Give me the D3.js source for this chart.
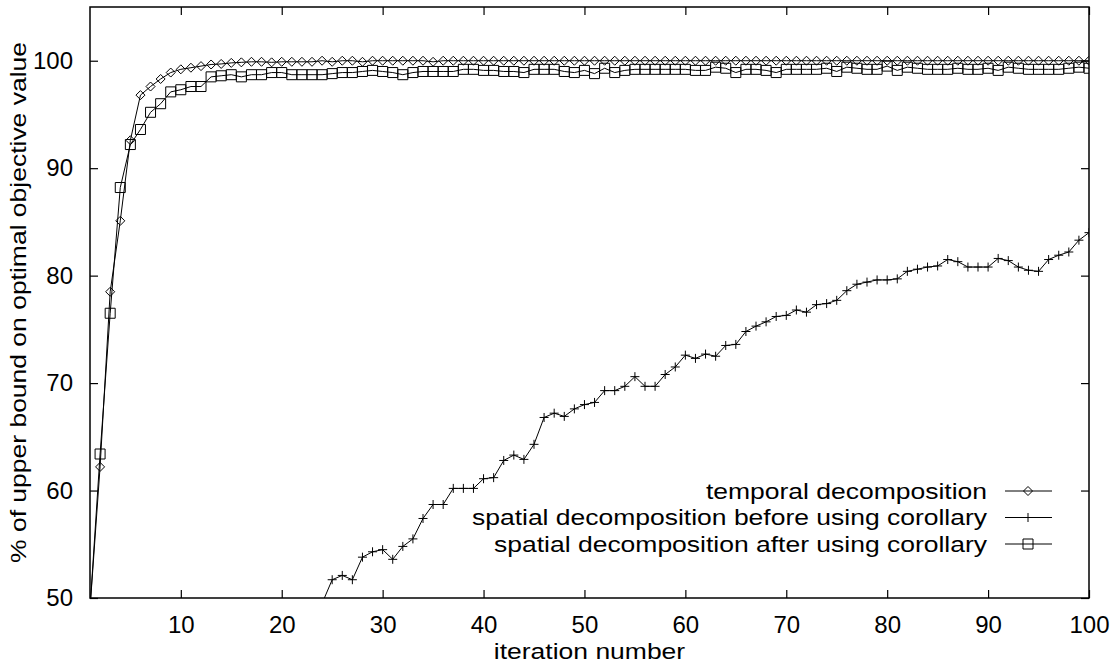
<!DOCTYPE html>
<html lang="en">
<head>
<meta charset="UTF-8">
<title>decomposition</title>
<style type="text/css">
  body { margin: 0; background: #fff; }
  svg { display: block; font-family: "Liberation Sans", Arial, sans-serif; }
  .axis path { display: none; }
  .axis line { stroke: #000; stroke-width: 1.2px; }
  .axis text { font-size: 24px; fill: #000; }
  .series path.line { fill: none; stroke: #000; stroke-width: 1px; }
  .mark { fill: none; stroke: #000; stroke-width: 1px; }
  .label { font-size: 22.5px; fill: #000; }
</style>
</head>
<body>
<svg id="chart" width="1117" height="664"></svg>
<script src="https://cdn.jsdelivr.net/npm/d3@7"></script>
<script>
"use strict";

var iterations = d3.range(1, 101);
var xTicks = [10, 20, 30, 40, 50, 60, 70, 80, 90, 100];
var yTicks = [50, 60, 70, 80, 90, 100];

var temporal = [
  49, 62.2, 78.5, 85.1, 92.6, 96.8, 97.6, 98.3, 98.9, 99.2,
  99.35, 99.5, 99.65, 99.7, 99.8, 99.85, 99.9, 99.9, 99.85, 99.9,
  99.9, 99.9, 99.9, 100, 99.9, 100, 100, 99.9, 100, 100,
  100, 100, 100, 100, 99.9, 100, 100, 100, 100, 100,
  100, 100, 100, 100, 100, 100, 100, 100, 100, 100,
  100, 100, 100, 100, 100, 100, 100, 100, 100, 100,
  100, 100, 100, 100, 100, 100, 100, 100, 100, 100,
  100, 100, 100, 100, 100, 100, 100, 100, 100, 100,
  100, 100, 100, 100, 100, 100, 100, 100, 100, 100,
  100, 100, 100, 100, 100, 100, 100, 100, 100, 100
];

var spatialBefore = [
  null, null, null, null, null, null, null, null, null, null,
  null, null, null, null, null, null, null, null, null, null,
  null, null, null, 49.5, 51.7, 52.1, 51.7, 53.8, 54.3, 54.5,
  53.6, 54.8, 55.5, 57.4, 58.7, 58.7, 60.2, 60.2, 60.2, 61.1,
  61.2, 62.8, 63.3, 62.9, 64.3, 66.8, 67.2, 66.9, 67.6, 68.0,
  68.2, 69.3, 69.3, 69.7, 70.6, 69.7, 69.7, 70.8, 71.5, 72.6,
  72.3, 72.7, 72.5, 73.5, 73.6, 74.8, 75.3, 75.7, 76.2, 76.3,
  76.8, 76.6, 77.3, 77.4, 77.7, 78.6, 79.2, 79.4, 79.6, 79.6,
  79.7, 80.4, 80.6, 80.8, 80.9, 81.5, 81.3, 80.8, 80.8, 80.8,
  81.6, 81.4, 80.8, 80.5, 80.4, 81.5, 81.9, 82.2, 83.3, 84.0
];

var spatialAfter = [
  49, 63.4, 76.5, 88.2, 92.2, 93.6, 95.2, 96.0, 97.1, 97.3,
  97.6, 97.6, 98.5, 98.6, 98.7, 98.5, 98.7, 98.7, 98.9, 98.9,
  98.7, 98.7, 98.7, 98.7, 98.8, 98.9, 98.9, 99.0, 99.1, 99.0,
  98.9, 98.7, 98.9, 99.0, 99.0, 99.0, 99.0, 99.2, 99.2, 99.1,
  99.1, 99.0, 99.0, 98.9, 99.2, 99.2, 99.2, 99.0, 98.9, 99.1,
  98.8, 99.3, 98.9, 99.1, 99.2, 99.2, 99.2, 99.2, 99.2, 99.2,
  99.1, 99.1, 99.4, 99.3, 98.9, 99.2, 99.2, 99.1, 98.9, 99.2,
  99.2, 99.2, 99.2, 99.3, 99.0, 99.4, 99.3, 99.2, 99.2, 99.5,
  99.1, 99.4, 99.3, 99.2, 99.2, 99.2, 99.3, 99.2, 99.2, 99.3,
  99.1, 99.4, 99.3, 99.2, 99.2, 99.2, 99.2, 99.3, 99.4, 99.3
];

var seriesNames = [
  "temporal decomposition",
  "spatial decomposition before using corollary",
  "spatial decomposition after using corollary"
];

var markers = {
  diamond: "M0,-4.5L4.5,0L0,4.5L-4.5,0Z",
  plus: "M-4.5,0H4.5M0,-4.5V4.5",
  square: "M-5,-5H5V5H-5Z"
};

var series = [
  {name: seriesNames[0], values: temporal, marker: "diamond"},
  {name: seriesNames[1], values: spatialBefore, marker: "plus"},
  {name: seriesNames[2], values: spatialAfter, marker: "square"}
];

var pLeft = 90, pRight = 1089, pTop = 7, pBottom = 598;
var stretch = 1.177; // text in the original is a little wider than Arial
var x = d3.scaleLinear().domain([1, 100]).range([pLeft, pRight]);
var y = d3.scaleLinear().domain([50, 105]).range([pBottom, pTop]);

var svg = d3.select("#chart");
svg.append("rect").attr("width", 1117).attr("height", 664).attr("fill", "#fff");

svg.append("clipPath").attr("id", "plot")
  .append("rect")
  .attr("x", pLeft).attr("y", pTop)
  .attr("width", pRight - pLeft).attr("height", pBottom - pTop);

// axes with inward ticks, mirrored on top and right
svg.append("g").attr("class", "axis")
  .attr("transform", "translate(0," + pBottom + ")")
  .call(d3.axisBottom(x).tickValues(xTicks).tickSizeInner(-8).tickSizeOuter(0).tickPadding(18));
svg.append("g").attr("class", "axis")
  .attr("transform", "translate(0," + pTop + ")")
  .call(d3.axisTop(x).tickValues(xTicks).tickSizeInner(-8).tickSizeOuter(0).tickFormat(""));
svg.append("g").attr("class", "axis")
  .attr("transform", "translate(" + pLeft + ",0)")
  .call(d3.axisLeft(y).tickValues(yTicks).tickSizeInner(-8).tickSizeOuter(0).tickPadding(17));
svg.append("g").attr("class", "axis")
  .attr("transform", "translate(" + pRight + ",0)")
  .call(d3.axisRight(y).tickValues(yTicks).tickSizeInner(-8).tickSizeOuter(0).tickFormat(""));

svg.append("rect")
  .attr("x", pLeft).attr("y", pTop)
  .attr("width", pRight - pLeft).attr("height", pBottom - pTop)
  .attr("fill", "none").attr("stroke", "#000").attr("stroke-width", 1.5);

var line = d3.line()
  .defined(function(d) { return d != null; })
  .x(function(d, i) { return x(iterations[i]); })
  .y(function(d) { return y(d); });

var g = svg.append("g").attr("clip-path", "url(#plot)");

series.forEach(function(s) {
  var sg = g.append("g").attr("class", "series");
  sg.append("path").attr("class", "line").attr("d", line(s.values));
  sg.selectAll("path.mark")
    .data(s.values.map(function(v, i) { return {x: iterations[i], v: v}; })
      .filter(function(d) { return d.v != null; }))
    .enter()
    .append("path")
    .attr("class", "mark")
    .attr("d", markers[s.marker])
    .attr("transform", function(d) { return "translate(" + x(d.x) + "," + y(d.v) + ")"; });
});

// legend
var legend = svg.append("g");
series.forEach(function(s, i) {
  var ly = 491 + i * 26.5;
  legend.append("text")
    .attr("class", "label")
    .attr("transform", "translate(987," + ly + ") scale(" + stretch + ",1)")
    .attr("dy", "0.35em")
    .attr("text-anchor", "end")
    .text(s.name);
  legend.append("line")
    .attr("x1", 1005).attr("x2", 1052).attr("y1", ly).attr("y2", ly)
    .attr("stroke", "#000").attr("stroke-width", 1);
  legend.append("path").attr("class", "mark")
    .attr("d", markers[s.marker])
    .attr("transform", "translate(1028," + ly + ")");
});

svg.append("text")
  .attr("class", "label")
  .attr("transform", "translate(" + (pLeft + pRight) / 2 + ",659) scale(" + stretch + ",1)")
  .attr("text-anchor", "middle")
  .text("iteration number");

svg.append("text")
  .attr("class", "label")
  .attr("transform", "translate(26," + (pTop + pBottom) / 2 + ") rotate(-90) scale(" + stretch + ",1)")
  .attr("text-anchor", "middle")
  .text("% of upper bound on optimal objective value");
</script>
</body>
</html>
